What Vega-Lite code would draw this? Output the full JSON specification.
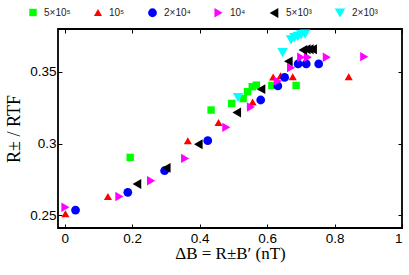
{
  "$schema": "https://vega.github.io/schema/vega-lite/v6.json",
  "width": 344,
  "height": 199,
  "autosize": {"type": "none"},
  "padding": {"left": 58, "top": 29, "right": 7, "bottom": 47},
  "background": "white",
  "config": {
    "view": {"stroke": "black", "strokeWidth": 1.8},
    "font": "Liberation Sans"
  },
  "data": {
    "values": [
      {"s": "5×10⁵", "x": 0.194, "y": 0.2903},
      {"s": "5×10⁵", "x": 0.434, "y": 0.3234},
      {"s": "5×10⁵", "x": 0.495, "y": 0.328},
      {"s": "5×10⁵", "x": 0.529, "y": 0.3314},
      {"s": "5×10⁵", "x": 0.542, "y": 0.3362},
      {"s": "5×10⁵", "x": 0.556, "y": 0.3397},
      {"s": "5×10⁵", "x": 0.568, "y": 0.3408},
      {"s": "5×10⁵", "x": 0.614, "y": 0.3406},
      {"s": "5×10⁵", "x": 0.686, "y": 0.3406},
      {"s": "10⁵", "x": 0.002, "y": 0.251},
      {"s": "10⁵", "x": 0.128, "y": 0.263},
      {"s": "10⁵", "x": 0.365, "y": 0.302},
      {"s": "10⁵", "x": 0.456, "y": 0.3147},
      {"s": "10⁵", "x": 0.557, "y": 0.329},
      {"s": "10⁵", "x": 0.618, "y": 0.3464},
      {"s": "10⁵", "x": 0.640, "y": 0.3473},
      {"s": "10⁵", "x": 0.676, "y": 0.3467},
      {"s": "10⁵", "x": 0.842, "y": 0.3467},
      {"s": "2×10⁴", "x": 0.032, "y": 0.2535},
      {"s": "2×10⁴", "x": 0.187, "y": 0.2659},
      {"s": "2×10⁴", "x": 0.296, "y": 0.281},
      {"s": "2×10⁴", "x": 0.424, "y": 0.302},
      {"s": "2×10⁴", "x": 0.581, "y": 0.3304},
      {"s": "2×10⁴", "x": 0.632, "y": 0.3402},
      {"s": "2×10⁴", "x": 0.652, "y": 0.3462},
      {"s": "2×10⁴", "x": 0.692, "y": 0.3556},
      {"s": "2×10⁴", "x": 0.716, "y": 0.3556},
      {"s": "2×10⁴", "x": 0.753, "y": 0.3556},
      {"s": "10⁴", "x": 0.002, "y": 0.2555},
      {"s": "10⁴", "x": 0.162, "y": 0.263},
      {"s": "10⁴", "x": 0.256, "y": 0.274},
      {"s": "10⁴", "x": 0.357, "y": 0.2896},
      {"s": "10⁴", "x": 0.479, "y": 0.3113},
      {"s": "10⁴", "x": 0.552, "y": 0.3255},
      {"s": "10⁴", "x": 0.632, "y": 0.3436},
      {"s": "10⁴", "x": 0.671, "y": 0.353},
      {"s": "10⁴", "x": 0.701, "y": 0.3603},
      {"s": "10⁴", "x": 0.721, "y": 0.3603},
      {"s": "10⁴", "x": 0.777, "y": 0.3603},
      {"s": "10⁴", "x": 0.888, "y": 0.3607},
      {"s": "5×10³", "x": 0.214, "y": 0.2717},
      {"s": "5×10³", "x": 0.301, "y": 0.283},
      {"s": "5×10³", "x": 0.396, "y": 0.2995},
      {"s": "5×10³", "x": 0.510, "y": 0.3217},
      {"s": "5×10³", "x": 0.582, "y": 0.338},
      {"s": "5×10³", "x": 0.663, "y": 0.3574},
      {"s": "5×10³", "x": 0.706, "y": 0.3654},
      {"s": "5×10³", "x": 0.716, "y": 0.3659},
      {"s": "5×10³", "x": 0.725, "y": 0.3659},
      {"s": "5×10³", "x": 0.735, "y": 0.3659},
      {"s": "2×10³", "x": 0.514, "y": 0.3322},
      {"s": "2×10³", "x": 0.646, "y": 0.3635},
      {"s": "2×10³", "x": 0.671, "y": 0.3724},
      {"s": "2×10³", "x": 0.681, "y": 0.374},
      {"s": "2×10³", "x": 0.691, "y": 0.3747},
      {"s": "2×10³", "x": 0.701, "y": 0.3759},
      {"s": "2×10³", "x": 0.713, "y": 0.3764}
    ]
  },
  "layer": [
    {
      "mark": {"type": "point", "filled": true, "opacity": 1},
      "encoding": {
        "x": {
          "field": "x", "type": "quantitative",
          "scale": {"domain": [-0.02, 1], "nice": false, "zero": false},
          "axis": {
            "values": [0, 0.2, 0.4, 0.6, 0.8, 1], "format": "~g",
            "grid": false, "domain": false, "tickSize": -4, "tickColor": "black",
            "labelFontSize": 13.5, "labelColor": "black", "labelPadding": 7,
            "title": "ΔB = R±B′ (nT)", "titleFont": "Liberation Serif",
            "titleFontSize": 17, "titleFontWeight": "normal", "titleColor": "black", "titlePadding": 1
          }
        },
        "y": {
          "field": "y", "type": "quantitative",
          "scale": {"domain": [0.241, 0.38], "nice": false, "zero": false},
          "axis": {
            "values": [0.25, 0.3, 0.35], "format": "~g",
            "grid": false, "domain": false, "tickSize": -4, "tickColor": "black",
            "labelFontSize": 13.5, "labelColor": "black", "labelPadding": 6,
            "title": "R± / RTF", "titleFont": "Liberation Serif",
            "titleFontSize": 18, "titleFontWeight": "normal", "titleColor": "black", "titlePadding": 6
          }
        },
        "size": {
          "field": "s", "type": "nominal", "legend": null,
          "scale": {
            "domain": ["5×10⁵", "10⁵", "2×10⁴", "10⁴", "5×10³", "2×10³"],
            "range": [55, 110, 60, 110, 110, 110]
          }
        },
        "color": {
          "field": "s", "type": "nominal",
          "scale": {
            "domain": ["5×10⁵", "10⁵", "2×10⁴", "10⁴", "5×10³", "2×10³"],
            "range": ["#00ff00", "#ff0000", "#0000ff", "#ff00ff", "#000000", "#00ffff"]
          },
          "legend": {
            "orient": "none", "legendX": -30, "legendY": -22,
            "direction": "horizontal", "title": null,
            "labelFontSize": 10, "labelColor": "#222222", "symbolSize": 50,
            "columnPadding": 22, "labelOffset": 6
          }
        },
        "shape": {
          "field": "s", "type": "nominal",
          "scale": {
            "domain": ["5×10⁵", "10⁵", "2×10⁴", "10⁴", "5×10³", "2×10³"],
            "range": ["square", "triangle-up", "circle", "triangle-right", "triangle-left", "triangle-down"]
          },
          "legend": {
            "orient": "none", "legendX": -30, "legendY": -22,
            "direction": "horizontal", "title": null,
            "labelFontSize": 10, "labelColor": "#222222", "symbolSize": 50,
            "columnPadding": 22, "labelOffset": 6
          }
        }
      }
    },
    {
      "mark": {"type": "point", "opacity": 0},
      "encoding": {
        "x": {
          "field": "x", "type": "quantitative",
          "axis": {"orient": "top", "values": [0, 0.2, 0.4, 0.6, 0.8, 1], "labels": false, "title": null, "grid": false, "domain": false, "tickSize": -4, "tickColor": "black"}
        },
        "y": {
          "field": "y", "type": "quantitative",
          "axis": {"orient": "right", "values": [0.25, 0.3, 0.35], "labels": false, "title": null, "grid": false, "domain": false, "tickSize": -4, "tickColor": "black"}
        }
      }
    }
  ],
  "resolve": {"axis": {"x": "independent", "y": "independent"}}
}
